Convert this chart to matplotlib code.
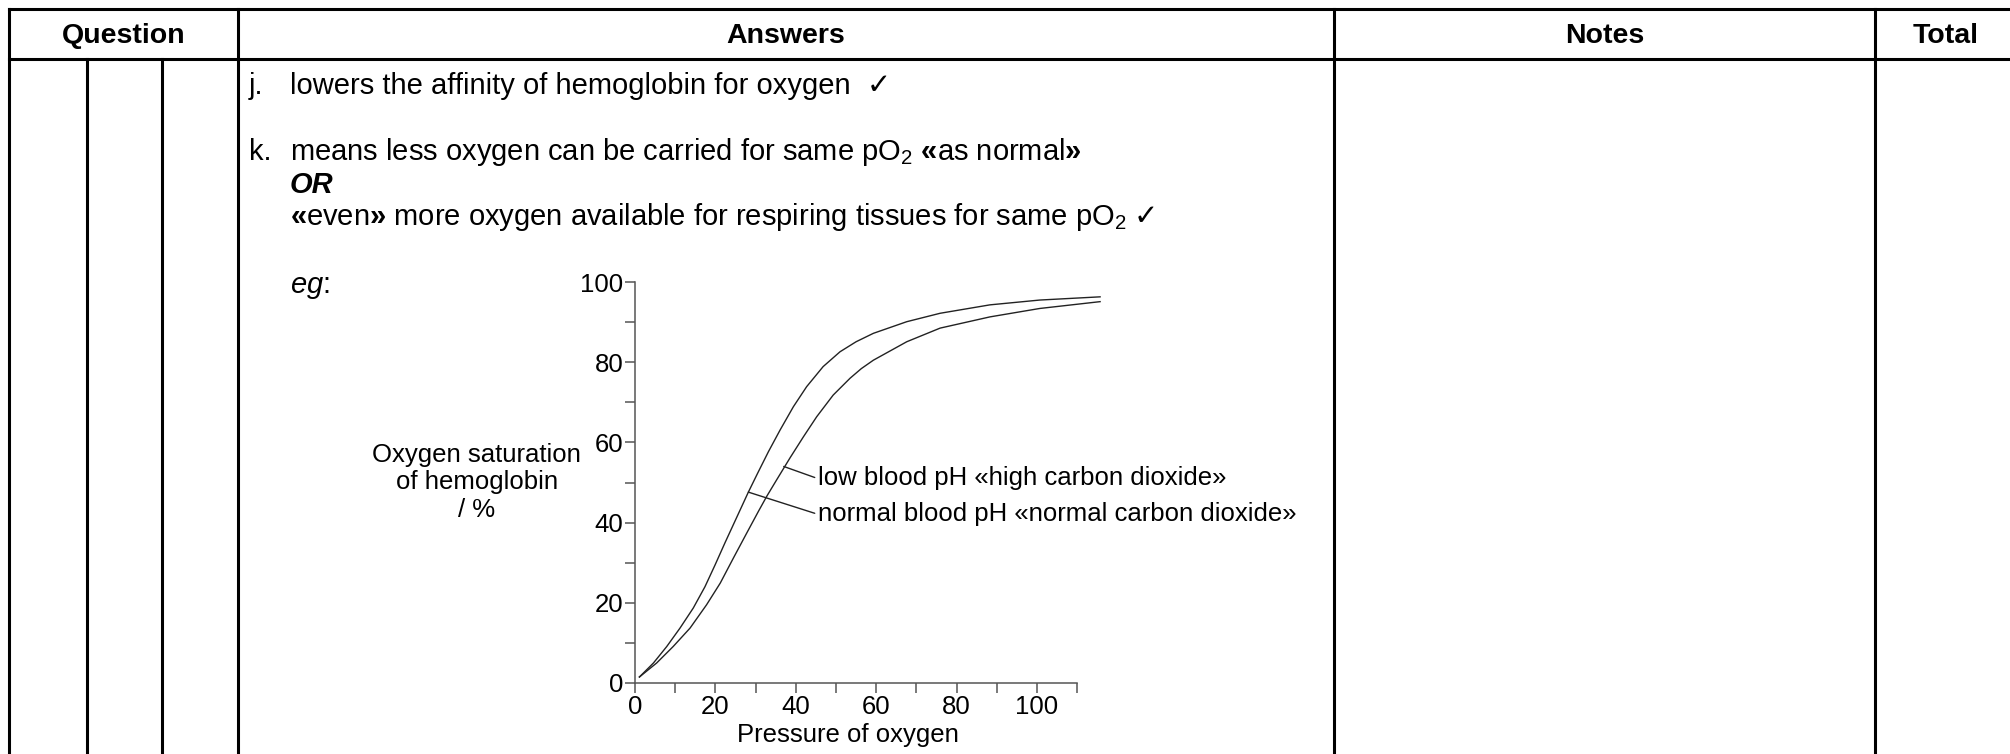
import matplotlib
matplotlib.use('Agg')
import matplotlib.pyplot as plt

plt.rcParams['font.family'] = ['Liberation Sans', 'DejaVu Sans']
plt.rcParams['mathtext.fontset'] = 'custom'
plt.rcParams['mathtext.rm'] = 'Liberation Sans'
plt.rcParams['mathtext.it'] = 'Liberation Sans:italic'
plt.rcParams['mathtext.bf'] = 'Liberation Sans:bold'
plt.rcParams['mathtext.default'] = 'regular'

# oxygen dissociation curves
low_ph_x = [1.1, 4.6, 7.9, 11.2, 14.5, 17.4, 19.9, 22.4, 25.3, 28.2, 30.5, 33.2,
            36.1, 39.4, 42.7, 46.8, 51.0, 55.0, 59.3, 67.6, 75.9, 88.3, 100.7, 115.7]
low_ph_y = [1.5, 5.0, 9.1, 13.7, 18.7, 24.0, 29.4, 35.0, 41.3, 47.6, 52.3, 57.7,
            63.1, 68.9, 73.9, 78.9, 82.6, 85.1, 87.2, 90.1, 92.2, 94.3, 95.5, 96.3]
normal_ph_x = [1.1, 5.4, 9.5, 13.7, 17.8, 21.2, 24.5, 27.8, 30.7, 32.8, 35.2, 38.6, 41.9,
               45.2, 49.3, 53.5, 56.3, 59.3, 67.6, 75.9, 88.3, 100.7, 115.7]
normal_ph_y = [1.5, 5.0, 9.1, 13.7, 19.5, 24.9, 31.2, 37.4, 42.8, 46.6, 50.6, 56.2, 61.4,
               66.4, 71.8, 76.0, 78.4, 80.5, 85.1, 88.5, 91.3, 93.4, 95.1]

x_ticks = [0, 20, 40, 60, 80, 100]
x_minor = [10, 30, 50, 70, 90, 110]
y_ticks = [0, 20, 40, 60, 80, 100]
y_minor = [10, 30, 50, 70, 90]

headers = ['Question', 'Answers', 'Notes', 'Total']
header_x = [124, 786, 1605, 1946]

W, H = 2010, 754
fig = plt.figure(figsize=(W / 100, H / 100), dpi=100)

# table frame, drawn in pixel coordinates
bg = fig.add_axes([0, 0, 1, 1])
bg.set_xlim(0, W)
bg.set_ylim(H, 0)
bg.axis('off')

lw = 2.2
bg.plot([9, W], [9, 9], color='black', lw=lw)
bg.plot([9, W], [59, 59], color='black', lw=lw)
for x in [9, 238, 1334, 1875]:
    bg.plot([x, x], [9, H], color='black', lw=lw)
for x in [87, 162]:
    bg.plot([x, x], [59, H], color='black', lw=lw)

for name, x in zip(headers, header_x):
    bg.text(x, 36, name, ha='center', va='center', fontsize=20.5, fontweight='bold')

fs = 21
bg.text(249, 86, 'j.', va='center', fontsize=fs)
bg.text(290, 86, 'lowers the affinity of hemoglobin for oxygen  ✓', va='center', fontsize=fs)
bg.text(249, 152, 'k.', va='center', fontsize=fs)
bg.text(290, 152, r'means less oxygen can be carried for same pO$_2$ $\mathbf{«}$as normal$\mathbf{»}$',
        va='center', fontsize=fs)
bg.text(290, 185, 'OR', va='center', fontsize=fs, fontweight='bold', fontstyle='italic')
t3 = bg.text(290, 217, r'$\mathbf{«}$even$\mathbf{»}$ more oxygen available for respiring tissues for same pO$_2$',
             va='center', fontsize=fs)
bg.annotate('✓', xy=(1, 0.5), xycoords=t3, xytext=(5, 0), textcoords='offset points',
            va='center', ha='left', fontsize=fs)
bg.text(290, 287, r'$\mathit{eg}$:', va='center', fontsize=fs)

# the graph itself
ax = fig.add_axes([635 / W, (H - 683) / H, 466.3 / W, 401 / H])
ax.patch.set_alpha(0)
ax.set_xlim(0, 116)
ax.set_ylim(0, 100)
for s in ['top', 'right']:
    ax.spines[s].set_visible(False)
ax.spines['left'].set_bounds(0, 100)
ax.spines['bottom'].set_bounds(0, 110)
for s in ['left', 'bottom']:
    ax.spines[s].set_color('#555555')
    ax.spines[s].set_linewidth(1.1)

ax.set_xticks(x_ticks)
ax.set_xticks(x_minor, minor=True)
ax.set_yticks(y_ticks)
ax.set_yticks(y_minor, minor=True)
ax.tick_params(which='both', direction='out', length=7, width=1.1, color='#555555',
               labelsize=18.5, pad=1.5)

ax.plot(low_ph_x, low_ph_y, color='#222222', lw=1.0, solid_joinstyle='round')
ax.plot(normal_ph_x, normal_ph_y, color='#222222', lw=1.0, solid_joinstyle='round')

ax.annotate('low blood pH «high carbon dioxide»', xy=(37.0, 54.0), xytext=(45.4, 51.0),
            va='center', ha='left', fontsize=18.5,
            arrowprops=dict(arrowstyle='-', lw=1, color='#222222', shrinkA=0, shrinkB=0,
                            relpos=(0, 0.5)))
ax.annotate('normal blood pH «normal carbon dioxide»', xy=(28.2, 47.6), xytext=(45.4, 42.1),
            va='center', ha='left', fontsize=18.5,
            arrowprops=dict(arrowstyle='-', lw=1, color='#222222', shrinkA=0, shrinkB=0,
                            relpos=(0, 0.5)))

ax.set_xlabel('Pressure of oxygen', fontsize=18.5)
ax.xaxis.set_label_coords(0.457, -0.13)
ax.xaxis.label.set_va('center')
ax.set_ylabel('Oxygen saturation\nof hemoglobin\n/ %', fontsize=18.5, rotation=0,
              ha='center', va='center', linespacing=1.2)
ax.yaxis.set_label_coords(-0.339, 0.5)

fig.savefig('out.png', dpi=100)
